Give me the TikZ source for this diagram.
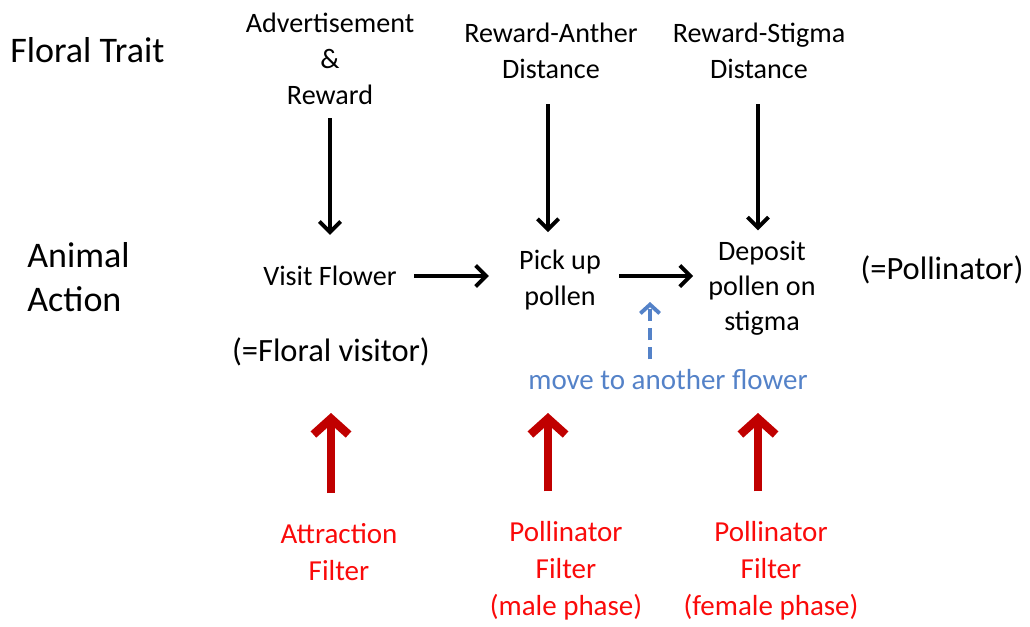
\documentclass[tikz,border=0pt]{standalone}
\usepackage{fontspec}
\setmainfont{Carlito}
\usetikzlibrary{arrows.meta}

\definecolor{filterdark}{RGB}{192,0,0}
\definecolor{filterred}{RGB}{250,10,10}
\definecolor{moveblue}{RGB}{84,130,200}

\tikzset{
  rowlabel/.style={anchor=west,align=left,inner sep=0pt,font=\fontsize{20.5}{25}\selectfont},
  trait/.style={align=center,inner sep=0pt,font=\fontsize{16}{20.5}\selectfont},
  action/.style={align=center,inner sep=0pt,font=\fontsize{16}{20}\selectfont},
  role/.style={inner sep=0pt,font=\fontsize{18.5}{22}\selectfont},
  filter/.style={align=center,inner sep=0pt,text=filterred,font=\fontsize{16.5}{21}\selectfont},
  traitarrow/.style={line width=2.2pt,-{Straight Barb[length=6pt,width=12pt]}},
  movearrow/.style={line width=2.2pt,moveblue,dash pattern=on 7pt off 4pt,-{Straight Barb[length=5pt,width=11pt]}},
  filterarrow/.style={line width=4.8pt,filterdark,-{Straight Barb[length=9pt,width=20pt]}}
}

\begin{document}
\begin{tikzpicture}[x=0.02cm,y=-0.02cm]
    \useasboundingbox (0,0) rectangle (1030,626);

    % Row labels
    \node[rowlabel] (traitrow) at (10,50) {Floral Trait};
    \node[rowlabel] (actionrow) at (27,277) {Animal\\Action};

    % Floral traits
    \node[trait] (advert) at (330,59) {Advertisement\\\&\\Reward};
    \node[trait] (anther) at (551,51) {Reward-Anther\\Distance};
    \node[trait] (stigma) at (759,51) {Reward-Stigma\\Distance};

    % Animal actions
    \node[action] (visit) at (330,276) {Visit Flower};
    \node[action] (pickup) at (560,280) {Pick up\\pollen};
    \node[action] (deposit) at (762,288) {Deposit\\pollen on\\stigma};
    \node[role] (visitor) at (331,352) {(=Floral visitor)};
    \node[role] (pollinator) at (942,270) {(=Pollinator)};
    \node[inner sep=0pt,text=moveblue,font=\fontsize{16.5}{20}\selectfont] (move) at (668,380) {move to another flower};

    % Filters
    \node[filter] (attraction) at (339,552) {Attraction\\Filter};
    \node[filter] (malefilter) at (566,571) {Pollinator\\Filter\\(male phase)};
    \node[filter] (femalefilter) at (771,571) {Pollinator\\Filter\\(female phase)};

    % Arrow tips that end in open space
    \coordinate (movetip) at (650,302);
    \coordinate (attrtip) at (331,413);
    \coordinate (maletip) at (548,413);
    \coordinate (femaletip) at (758,413);

    % Trait arrows
    \draw[traitarrow, shorten <=0.26cm, shorten >=0.62cm] (advert.south) -- (visit.north);
    \draw[traitarrow, shorten <=0.5cm, shorten >=0.36cm] ([xshift=-0.06cm]anther.south) -- ([xshift=-0.06cm]anther.south |- pickup.north);
    \draw[traitarrow, shorten <=0.5cm, shorten >=0.2cm] ([xshift=-0.02cm]stigma.south) -- ([xshift=-0.02cm]stigma.south |- deposit.north);

    % Action arrows
    \draw[traitarrow, shorten <=0.34cm, shorten >=0.6cm] (visit.east) -- (visit.east -| pickup.west);
    \draw[traitarrow, shorten <=0.36cm, shorten >=0.3cm] (visit.east -| pickup.east) -- (visit.east -| deposit.west);
    \draw[movearrow, shorten <=0.2cm] (movetip |- move.north) -- (movetip);

    % Filter arrows
    \draw[filterarrow, shorten <=0.6cm] (attrtip |- attraction.north) -- (attrtip);
    \draw[filterarrow, shorten <=0.6cm] (maletip |- malefilter.north) -- (maletip);
    \draw[filterarrow, shorten <=0.6cm] (femaletip |- femalefilter.north) -- (femaletip);
\end{tikzpicture}
\end{document}
